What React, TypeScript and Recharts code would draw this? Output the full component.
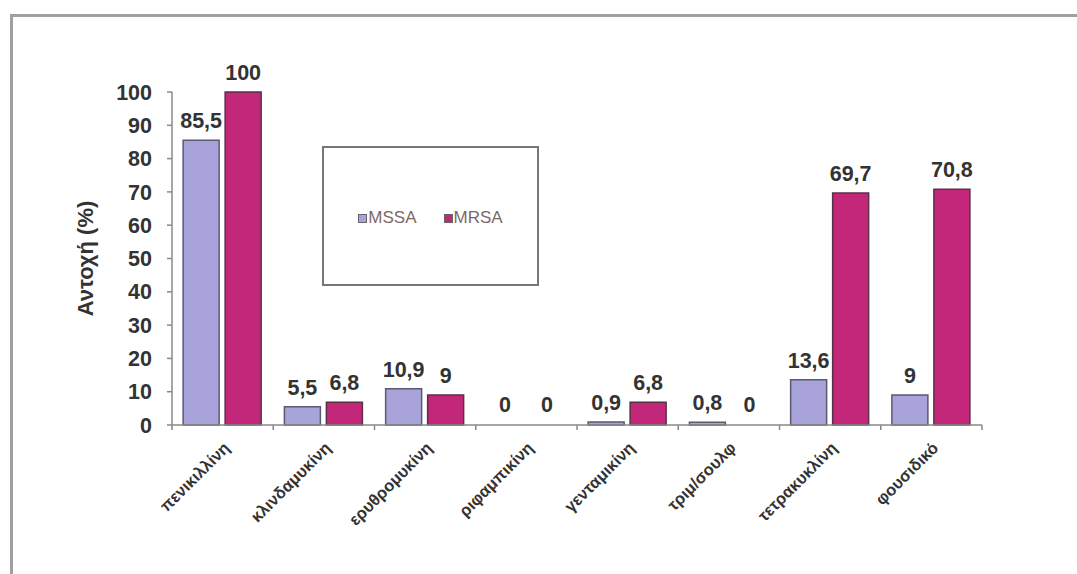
import { BarChart, Bar, XAxis, YAxis, Rectangle } from 'recharts';

const categories = ['πενικιλλίνη', 'κλινδαμυκίνη', 'ερυθρομυκίνη', 'ριφαμπικίνη', 'γενταμικίνη', 'τριμ/σουλφ', 'τετρακυκλίνη', 'φουσιδικό'];
const mssa = [85.5, 5.5, 10.9, 0, 0.9, 0.8, 13.6, 9];
const mrsa = [100, 6.8, 9, 0, 6.8, 0, 69.7, 70.8];
const yTicks = [0, 10, 20, 30, 40, 50, 60, 70, 80, 90, 100];

const data = categories.map((name, i) => ({ name, MSSA: mssa[i], MRSA: mrsa[i] }));

const W = 1077;
const H = 574;
const M = { top: 92, right: 95, bottom: 49, left: 92 };
const BAND = (W - M.left - 80 - M.right) / categories.length;

const MSSA_COLOR = '#a9a3dc';
const MRSA_COLOR = '#c2277a';
const FONT = 'Arial, "Liberation Sans", sans-serif';

const fmt = (v: any) => String(v).replace('.', ',');

function XTick(props: any) {
  const { x, y, payload, index } = props;
  return (
    <g>
      <line x1={x - BAND / 2} y1={y - 8} x2={x - BAND / 2} y2={y - 3} stroke="#888" strokeWidth={1.5} />
      {index === categories.length - 1 && (
        <line x1={x + BAND / 2} y1={y - 8} x2={x + BAND / 2} y2={y - 3} stroke="#888" strokeWidth={1.5} />
      )}
      <text x={x + 8} y={y + 16} textAnchor="end" transform={`rotate(-45 ${x + 8} ${y + 16})`}
        fontSize={16.5} fontWeight="bold" fill="#333" fontFamily={FONT}>
        {payload.value}
      </text>
    </g>
  );
}

// bar + its value label; zero bars only get the label
const makeShape = (key: string) => (props: any) => {
  const value = props.payload[key];
  const top = Math.min(props.y, props.y + props.height);
  return (
    <g>
      {value > 0 && <Rectangle {...props} />}
      <text x={props.x + props.width / 2} y={top - 12} textAnchor="middle" fontSize={21.5} fontWeight="bold"
        fill="#333" fontFamily={FONT}>
        {fmt(value)}
      </text>
    </g>
  );
};

function LegendBox() {
  const items = [
    { label: 'MSSA', color: MSSA_COLOR },
    { label: 'MRSA', color: MRSA_COLOR },
  ];
  return (
    <div style={{ position: 'absolute', left: 322, top: 146, width: 213, height: 132, border: '2px solid #777',
      background: '#fff', display: 'flex', alignItems: 'center', justifyContent: 'center', gap: 27,
      fontFamily: FONT, fontSize: 17, color: '#7d6868', paddingTop: 4, boxSizing: 'content-box' }}>
      {items.map((it) => (
        <span key={it.label} style={{ display: 'flex', alignItems: 'center', gap: 1 }}>
          <span style={{ width: 7, height: 7, background: it.color, border: '1px solid #666', display: 'inline-block' }} />
          {it.label}
        </span>
      ))}
    </div>
  );
}

export default function App() {
  return (
    <div style={{ position: 'fixed', left: 0, top: 0, width: W, height: H, background: '#fff' }}>
      <div style={{ position: 'absolute', left: 10, top: 14, right: -10, bottom: -10,
        borderLeft: '3px solid #a0a0a0', borderTop: '3px solid #a0a0a0' }} />
      <BarChart width={W} height={H} data={data} margin={M} barCategoryGap="11%" barGap={6}
        style={{ position: 'absolute', left: 0, top: 0 }}>
        <XAxis dataKey="name" height={100} tick={<XTick />} tickLine={false} interval={0}
          axisLine={{ stroke: '#888', strokeWidth: 1.5 }} />
        <YAxis width={80} domain={[0, 100]} ticks={yTicks} interval={0} tickSize={5} tickMargin={15}
          axisLine={{ stroke: '#888', strokeWidth: 1.5 }} tickLine={{ stroke: '#888', strokeWidth: 1.5 }}
          tick={{ fontSize: 21.5, fontWeight: 'bold', fill: '#333', fontFamily: FONT }}
          label={{
            content: (p: any) => (
              <text x={p.viewBox.x - 7} y={p.viewBox.y + p.viewBox.height / 2} textAnchor="middle"
                transform={`rotate(-90 ${p.viewBox.x - 7} ${p.viewBox.y + p.viewBox.height / 2})`}
                dominantBaseline="central" fontSize={22} fontWeight="bold" fill="#333" fontFamily={FONT}>
                Αντοχή (%)
              </text>
            ),
          }} />
        <Bar dataKey="MSSA" fill={MSSA_COLOR} stroke="#5a5a70" strokeWidth={1.5} isAnimationActive={false}
          minPointSize={1} shape={makeShape('MSSA')} />
        <Bar dataKey="MRSA" fill={MRSA_COLOR} stroke="#5a3048" strokeWidth={1.5} isAnimationActive={false}
          minPointSize={1} shape={makeShape('MRSA')} />
      </BarChart>
      <LegendBox />
    </div>
  );
}
